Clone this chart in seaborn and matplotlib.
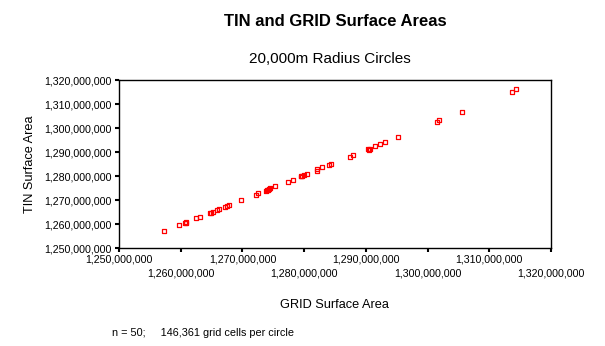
import matplotlib
matplotlib.use("Agg")
import matplotlib.pyplot as plt
import seaborn as sns
import pandas as pd
from matplotlib.ticker import FuncFormatter

# GRID surface area (millions of m^2)
grid_area = [1257.34, 1259.77, 1260.74, 1260.91, 1260.85, 1262.53, 1263.17, 1264.79,
             1264.96, 1265.28, 1265.93, 1266.25, 1267.22, 1267.55, 1267.87, 1269.82,
             1272.25, 1272.57, 1273.87, 1274.00, 1274.14, 1274.35, 1274.51, 1275.33,
             1277.43, 1278.24, 1279.44, 1279.60, 1279.52, 1280.03, 1280.51, 1282.13,
             1282.13, 1282.94, 1284.08, 1284.40, 1287.48, 1287.97, 1290.30, 1290.67,
             1290.50, 1291.53, 1292.34, 1293.15, 1295.26, 1301.58, 1301.90, 1305.63,
             1313.73, 1314.38]
# TIN surface area (millions of m^2)
tin_area = [1256.96, 1259.46, 1260.29, 1260.71, 1260.50, 1262.38, 1262.79, 1264.46,
            1264.71, 1264.88, 1265.71, 1266.13, 1266.96, 1267.38, 1267.79, 1269.88,
            1271.96, 1272.79, 1273.88, 1274.00, 1274.17, 1274.58, 1274.88, 1275.71,
            1277.38, 1278.21, 1279.88, 1279.88, 1279.80, 1280.29, 1280.71, 1282.79,
            1282.21, 1283.63, 1284.46, 1284.88, 1287.79, 1288.63, 1291.13, 1291.13,
            1291.00, 1292.38, 1293.21, 1294.04, 1296.13, 1302.38, 1303.21, 1306.54,
            1314.88, 1316.13]

x_ticks = [1250, 1260, 1270, 1280, 1290, 1300, 1310, 1320]
y_ticks = [1250, 1260, 1270, 1280, 1290, 1300, 1310, 1320]

title = "TIN and GRID Surface Areas"
subtitle = "20,000m Radius Circles"
x_label = "GRID Surface Area"
y_label = "TIN Surface Area"
footnote = "n = 50;     146,361 grid cells per circle"

df = pd.DataFrame({"grid": [v * 1e6 for v in grid_area],
                   "tin": [v * 1e6 for v in tin_area]})

sns.set_style("white")
plt.rcParams['font.family'] = ['Liberation Sans', 'DejaVu Sans']
plt.rcParams['text.color'] = 'black'
plt.rcParams['xtick.color'] = 'black'
plt.rcParams['ytick.color'] = 'black'
plt.rcParams['xtick.labelcolor'] = 'black'
plt.rcParams['ytick.labelcolor'] = 'black'

fig = plt.figure(figsize=(6.05, 3.46), dpi=100)
ax = fig.add_axes([119/605, 1-248/346, 432/605, 168/346])

sns.scatterplot(data=df, x="grid", y="tin", ax=ax, marker="s", s=8,
                facecolors="none", edgecolors="#ff0000", linewidths=0.9,
                legend=False)

ax.set_xlim(x_ticks[0] * 1e6, x_ticks[-1] * 1e6)
ax.set_ylim(y_ticks[0] * 1e6, y_ticks[-1] * 1e6)
ax.set_xticks([t * 1e6 for t in x_ticks])
ax.set_yticks([t * 1e6 for t in y_ticks])
ax.set_xticklabels([("" if i % 2 == 0 else "\n") + f"{int(t*1e6):,}"
                    for i, t in enumerate(x_ticks)], fontsize=7.7, linespacing=1.42)
ax.yaxis.set_major_formatter(FuncFormatter(lambda v, p: f"{int(round(v)):,}"))
ax.tick_params(axis="y", labelsize=7.7)
ax.tick_params(direction="out", length=3, width=1.5, color="black", pad=2)
ax.tick_params(axis="x", bottom=True)
ax.tick_params(axis="y", left=True)
for sp in ax.spines.values():
    sp.set_visible(True)
    sp.set_color("black")
    sp.set_linewidth(1.0)

ax.set_xlabel("")
ax.set_ylabel("")
fig.text(335/605, 1-21/346, title, ha="center", va="center", fontsize=12,
         fontweight="bold", color="black")
fig.text(330/605, 1-59/346, subtitle, ha="center", va="center", fontsize=11, color="black")
fig.text(334/605, 1-305/346, x_label, ha="center", va="center", fontsize=9.2, color="black")
fig.text(30/605, 1-164/346, y_label, ha="center", va="center", rotation=90,
         fontsize=9.2, color="black")
fig.text(112/605, 1-332.5/346, footnote, ha="left", va="center", fontsize=7.8, color="black")

fig.savefig("out.png", dpi=100, facecolor="white")
